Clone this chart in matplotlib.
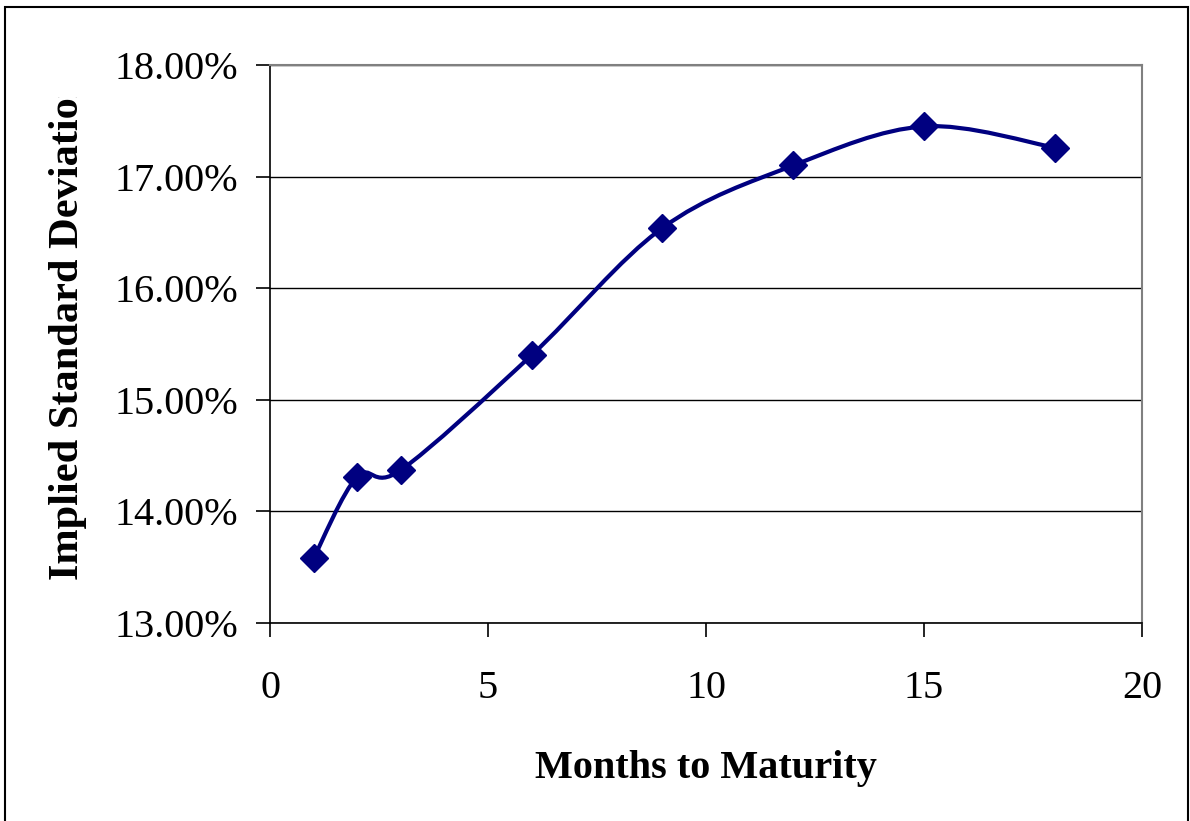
import numpy as np
import matplotlib.pyplot as plt
from matplotlib.path import Path
from matplotlib.patches import PathPatch, Rectangle
from matplotlib.ticker import FuncFormatter

# months to maturity and implied volatility (%)
months = [1, 2, 3, 6, 9, 12, 15, 18]
isd = [13.58, 14.31, 14.37, 15.40, 16.54, 17.10, 17.45, 17.26]

plt.rcParams['font.family'] = ['Liberation Serif', 'DejaVu Serif']

fig = plt.figure(figsize=(11.9, 8.21), dpi=100)
ax = fig.add_axes([0.2269, 0.2412, 0.7328, 0.6796])

# smoothed line through the points (cubic bezier, catmull-rom style)
pts = np.column_stack([months, isd])
verts = [tuple(pts[0])]
codes = [Path.MOVETO]
n = len(pts)
for i in range(n - 1):
    p0 = pts[max(i - 1, 0)]
    p1 = pts[i]
    p2 = pts[i + 1]
    p3 = pts[min(i + 2, n - 1)]
    c1 = p1 + (p2 - p0) / 6.0
    c2 = p2 - (p3 - p1) / 6.0
    verts += [tuple(c1), tuple(c2), tuple(p2)]
    codes += [Path.CURVE4] * 3
curve = PathPatch(Path(verts, codes), facecolor='none', edgecolor='#000080',
                  lw=3, zorder=3)
ax.add_patch(curve)
ax.plot(months, isd, linestyle='none', marker='D', markersize=14,
        color='#000080', zorder=4)

ax.set_xlim(0, 20)
ax.set_ylim(13, 18)
ax.set_xticks([0, 5, 10, 15, 20])
ax.set_yticks([13, 14, 15, 16, 17, 18])
ax.yaxis.set_major_formatter(FuncFormatter(lambda v, p: '%.2f%%' % v))
ax.grid(axis='y', color='black', lw=1)
ax.set_axisbelow(True)
for s in ['top', 'right']:
    ax.spines[s].set_color('#808080')
    ax.spines[s].set_linewidth(1.5)
for s in ['left', 'bottom']:
    ax.spines[s].set_color('black')
    ax.spines[s].set_linewidth(1.2)
ax.tick_params(direction='out', length=10, width=1.2, labelsize=29)
ax.tick_params(axis='y', pad=13)
ax.tick_params(axis='x', pad=24)

ax.set_xlabel('Months to Maturity', fontsize=29, fontweight='bold', labelpad=31)
# y title runs past the top of the chart area and gets cut off
ylab = fig.text(0.057, 0.602, 'Implied Standard Deviation', rotation=90,
                fontsize=30.5, fontweight='bold', ha='center', va='center')
clip = Rectangle((0, 0), 1, 0.882, transform=fig.transFigure, visible=False)
fig.add_artist(clip)
ylab.set_clip_path(clip)

# chart border
fig.add_artist(Rectangle((5 / 1190, -0.01), 1183 / 1190, 1 - 7 / 821 + 0.01,
                         transform=fig.transFigure, fill=False,
                         edgecolor='black', lw=1.5))

fig.savefig('out.png', dpi=100)
